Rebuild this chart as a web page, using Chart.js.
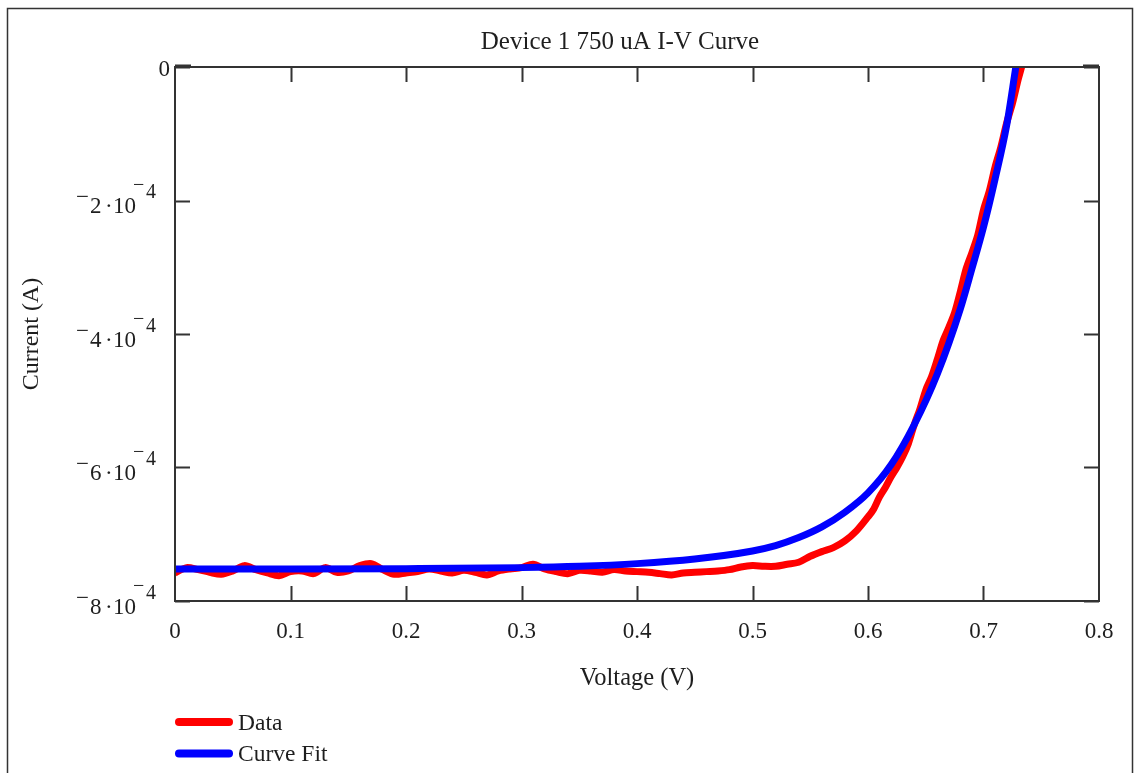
<!DOCTYPE html>
<html>
<head>
<meta charset="utf-8">
<script src="https://cdn.jsdelivr.net/npm/chart.js@4.4.1/dist/chart.umd.min.js"></script>
<style>
  html, body { margin: 0; padding: 0; background: #fff; }
  #wrap { width: 1136px; height: 773px; }
</style>
</head>
<body>
<div id="wrap"><canvas id="ivChart" width="1136" height="773"></canvas></div>
<script>
const chartTitle = "Device 1 750 uA I-V Curve";
const xTitle = "Voltage (V)";
const yTitle = "Current (A)";
const seriesLabels = ["Data", "Curve Fit"];
const seriesColors = ["#ff0000", "#0000ff"];

// currents below are in units of 1e-4 A
const CURRENT_UNIT = 1e-4;

const dataVoltage = [
  0.00, 0.01, 0.02, 0.03, 0.04, 0.05, 0.06, 0.07, 0.08, 0.09,
  0.10, 0.11, 0.12, 0.13, 0.14, 0.15, 0.16, 0.17, 0.18, 0.19,
  0.20, 0.21, 0.22, 0.23, 0.24, 0.25, 0.26, 0.27, 0.28, 0.29,
  0.30, 0.31, 0.32, 0.33, 0.34, 0.35, 0.36, 0.37, 0.38, 0.39,
  0.40, 0.41, 0.42, 0.43, 0.44, 0.45, 0.46, 0.47, 0.48, 0.49,
  0.50, 0.51, 0.52, 0.53, 0.54, 0.55, 0.56, 0.57, 0.58, 0.59,
  0.60, 0.605, 0.61, 0.615, 0.62, 0.625, 0.63, 0.635, 0.64, 0.645,
  0.65, 0.655, 0.66, 0.665, 0.67, 0.675, 0.68, 0.685, 0.69, 0.695,
  0.70, 0.705, 0.71, 0.715, 0.72, 0.725, 0.73, 0.733
];
const dataCurrent = [
  -7.58, -7.50, -7.53, -7.57, -7.60, -7.55, -7.47, -7.53, -7.58, -7.62,
  -7.56, -7.55, -7.59, -7.50, -7.57, -7.55, -7.47, -7.44, -7.53, -7.60,
  -7.58, -7.56, -7.52, -7.55, -7.58, -7.54, -7.57, -7.61, -7.55, -7.52,
  -7.50, -7.45, -7.52, -7.56, -7.59, -7.54, -7.55, -7.57, -7.53, -7.55,
  -7.56, -7.57, -7.59, -7.61, -7.58, -7.57, -7.56, -7.55, -7.53, -7.49,
  -7.47, -7.48, -7.48, -7.45, -7.42, -7.33, -7.26, -7.20, -7.10, -6.95,
  -6.74, -6.62, -6.44, -6.30, -6.14, -6.00, -5.84, -5.64, -5.36, -5.12,
  -4.84, -4.64, -4.38, -4.10, -3.90, -3.68, -3.36, -3.02, -2.78, -2.52,
  -2.14, -1.86, -1.50, -1.20, -0.84, -0.55, -0.19, 0
];

const fitVoltage = [
  0, 0.1, 0.2, 0.3, 0.35, 0.4, 0.45, 0.5, 0.52, 0.54, 0.56, 0.58,
  0.60, 0.62, 0.64, 0.66, 0.68, 0.69, 0.70, 0.71, 0.72, 0.728
];
const fitCurrent = [
  -7.52, -7.52, -7.515, -7.50, -7.48, -7.44, -7.37, -7.25, -7.17, -7.05, -6.89, -6.67,
  -6.38, -5.96, -5.36, -4.60, -3.62, -3.02, -2.40, -1.68, -0.88, 0
];

const xTickStep = 0.1;
const yTickValues = [0, -2e-4, -4e-4, -6e-4, -8e-4];

const FONT = '"Liberation Serif", "Times New Roman", serif';
const TEXT = '#1e1e1e';
const LINE = '#333';

function toPoints(xs, ys) {
  return xs.map((v, i) => ({ x: v, y: ys[i] * CURRENT_UNIT }));
}

// MathCAD style y labels: -2·10^-4
function drawYLabel(ctx, value, py, right) {
  ctx.fillStyle = TEXT;
  ctx.textAlign = 'left';
  ctx.textBaseline = 'alphabetic';
  if (value === 0) {
    ctx.font = '23px ' + FONT;
    ctx.textAlign = 'right';
    ctx.fillText('0', right + 13, py + 9);
    return;
  }
  const exp = Math.floor(Math.log10(Math.abs(value)) + 1e-9);
  const mant = Math.round(value / Math.pow(10, exp));
  const b = py + 12.5;
  ctx.font = '23px ' + FONT;
  if (mant < 0) ctx.fillText('\u2212', right - 81, b - 9);
  ctx.fillText(String(Math.abs(mant)), right - 67, b);
  ctx.fillText('\u00b7', right - 52, b);
  ctx.fillText('10', right - 44, b);
  ctx.font = '20px ' + FONT;
  if (exp < 0) ctx.fillText('\u2212', right - 24, b - 22);
  ctx.fillText(String(Math.abs(exp)), right - 11, b - 15);
}

const decorations = {
  id: 'decorations',
  beforeDraw(chart) {
    const ctx = chart.ctx;
    ctx.save();
    ctx.fillStyle = '#fff';
    ctx.fillRect(0, 0, chart.width, chart.height);
    ctx.strokeStyle = LINE;
    ctx.lineWidth = 1.5;
    ctx.strokeRect(7.5, 8.5, 1125, 800);
    ctx.restore();
  },
  afterDraw(chart) {
    const { ctx, chartArea: a, scales: { x, y } } = chart;
    ctx.save();
    // plot frame
    ctx.strokeStyle = LINE;
    ctx.lineWidth = 2;
    ctx.strokeRect(a.left, a.top, a.right - a.left, a.bottom - a.top);
    // inward tick marks
    ctx.beginPath();
    x.ticks.forEach(t => {
      if (t.value <= x.min + 1e-9 || t.value >= x.max - 1e-9) return;
      const px = Math.round(x.getPixelForValue(t.value)) + 0.5;
      ctx.moveTo(px, a.bottom); ctx.lineTo(px, a.bottom - 15);
      ctx.moveTo(px, a.top); ctx.lineTo(px, a.top + 15);
    });
    yTickValues.forEach(v => {
      const py = Math.round(y.getPixelForValue(v)) + 0.5;
      ctx.moveTo(a.left, py); ctx.lineTo(a.left + 15, py);
      ctx.moveTo(a.right, py); ctx.lineTo(a.right - 15, py);
    });
    ctx.stroke();
    // heavier zero marks at top corners
    ctx.lineWidth = 3;
    ctx.beginPath();
    ctx.moveTo(a.left, a.top - 1); ctx.lineTo(a.left + 16, a.top - 1);
    ctx.moveTo(a.right - 16, a.top - 1); ctx.lineTo(a.right, a.top - 1);
    ctx.stroke();

    // y tick labels
    yTickValues.forEach(v => drawYLabel(ctx, v, y.getPixelForValue(v), a.left - 18));

    // title
    ctx.fillStyle = TEXT;
    ctx.font = '25px ' + FONT;
    ctx.textAlign = 'center';
    ctx.textBaseline = 'alphabetic';
    ctx.fillText(chartTitle, 620, 49);

    // legend, stacked under the x axis title
    ctx.font = '23.5px ' + FONT;
    ctx.textAlign = 'left';
    chart.data.datasets.forEach((ds, i) => {
      const ly = 722 + i * 31.5;
      ctx.strokeStyle = ds.borderColor;
      ctx.lineWidth = 8;
      ctx.lineCap = 'round';
      ctx.beginPath();
      ctx.moveTo(179, ly); ctx.lineTo(229, ly);
      ctx.stroke();
      ctx.fillStyle = TEXT;
      ctx.fillText(ds.label, 238, ly + 7.5);
    });
    ctx.restore();
  }
};

new Chart(document.getElementById('ivChart'), {
  type: 'line',
  data: {
    datasets: [
      {
        label: seriesLabels[0],
        data: toPoints(dataVoltage, dataCurrent),
        borderColor: seriesColors[0],
        borderWidth: 7,
        pointRadius: 0,
        tension: 0.3,
        borderJoinStyle: 'round',
        order: 1
      },
      {
        label: seriesLabels[1],
        data: toPoints(fitVoltage, fitCurrent),
        borderColor: seriesColors[1],
        borderWidth: 7,
        pointRadius: 0,
        cubicInterpolationMode: 'monotone',
        order: 0
      }
    ]
  },
  options: {
    responsive: false,
    animation: false,
    devicePixelRatio: 1,
    layout: { padding: { left: 0, top: 67, right: 37, bottom: 72 } },
    plugins: {
      legend: { display: false },
      title: { display: false },
      tooltip: { enabled: false }
    },
    scales: {
      x: {
        type: 'linear',
        min: 0,
        max: 0.8,
        ticks: {
          stepSize: xTickStep,
          color: TEXT,
          font: { family: FONT, size: 23 },
          padding: 9,
          maxRotation: 0,
          callback: v => (Math.abs(v) < 1e-9 ? '0' : v.toFixed(1))
        },
        grid: { display: false },
        border: { display: false },
        title: {
          display: true,
          text: xTitle,
          color: TEXT,
          font: { family: FONT, size: 24.5 },
          padding: { top: 0, bottom: 8 }
        },
        afterFit: s => { s.height = 100; }
      },
      y: {
        type: 'linear',
        min: -8e-4,
        max: 0,
        ticks: { stepSize: 2e-4, callback: () => '' },
        grid: { display: false },
        border: { display: false },
        title: {
          display: true,
          text: yTitle,
          color: TEXT,
          font: { family: FONT, size: 24 },
          padding: { top: 17, bottom: 0 }
        },
        afterFit: s => { s.width = 175; }
      }
    }
  },
  plugins: [decorations]
});
</script>
</body>
</html>
